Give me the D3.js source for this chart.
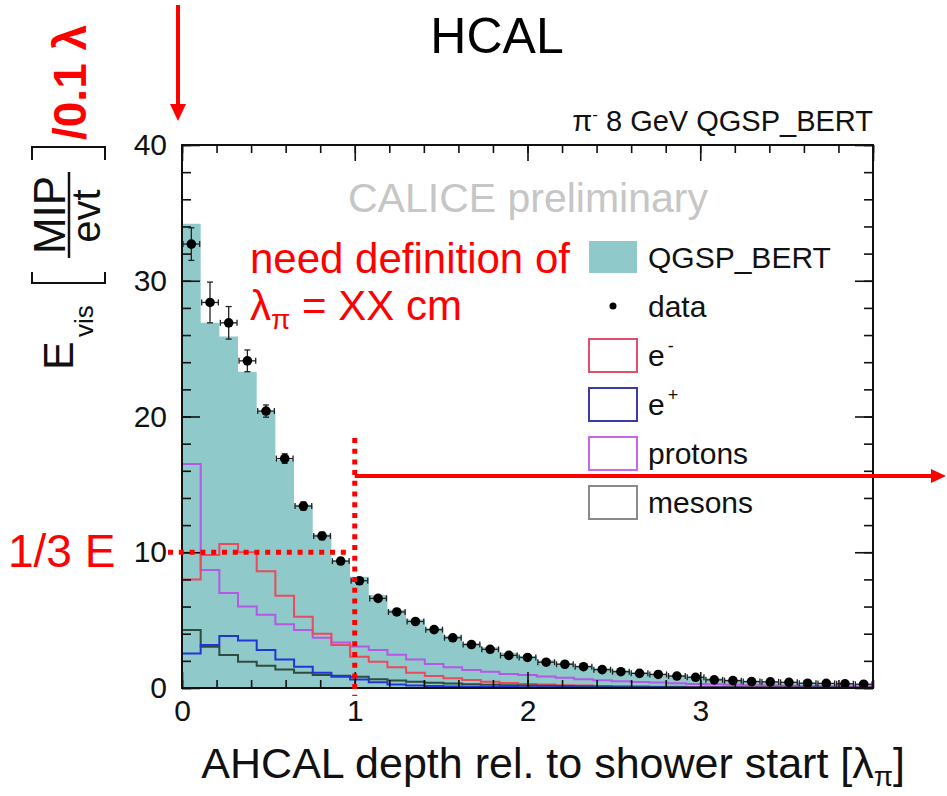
<!DOCTYPE html>
<html>
<head>
<meta charset="utf-8">
<script src="https://cdn.jsdelivr.net/npm/d3@7/dist/d3.min.js"></script>
<style>
  html, body { margin: 0; padding: 0; background: #fff; }
  svg { display: block; font-family: "Liberation Sans", Arial, Helvetica, sans-serif; }
</style>
</head>
<body>
<svg id="chart" width="947" height="796"></svg>
<script>
// Longitudinal shower profile, pi- 8 GeV, AHCAL, 37 depth bins from 0 to 4 lambda_pi
const nBins = 37;
const xMax = 4;

// Data points (MIP/evt per bin) and their statistical errors
const dataVals = [32.7, 28.4, 26.9, 24.1, 20.4, 16.9, 13.4, 11.2, 9.35, 7.9,
  6.6, 5.6, 4.9, 4.3, 3.7, 3.2, 2.85, 2.4, 2.25, 1.9,
  1.75, 1.57, 1.35, 1.2, 1.08, 1.0, 0.88, 0.79, 0.6, 0.54,
  0.47, 0.45, 0.42, 0.35, 0.34, 0.31, 0.28];
const dataErr = [1.2, 1.5, 1.2, 0.8, 0.45, 0.35, 0.3, 0.28, 0.25, 0.22,
  0.2, 0.18, 0.16, 0.15, 0.14, 0.13, 0.12, 0.11, 0.1, 0.1,
  0.1, 0.1, 0.1, 0.1, 0.1, 0.1, 0.1, 0.1, 0.1, 0.1,
  0.1, 0.1, 0.1, 0.1, 0.1, 0.1, 0.1];

// QGSP_BERT total
const qgspVals = [34.2, 26.9, 25.9, 23.3, 20.4, 16.8, 13.5, 11.3, 9.4, 8.2,
  6.85, 5.75, 5.05, 4.4, 3.85, 3.3, 3.0, 2.6, 2.35, 2.05,
  1.85, 1.65, 1.45, 1.3, 1.15, 1.05, 0.95, 0.85, 0.72, 0.62,
  0.55, 0.5, 0.45, 0.4, 0.36, 0.33, 0.3];

// QGSP_BERT contributions by particle type
const eMinus = [8.0, 9.8, 10.6, 10.0, 8.6, 6.8, 5.25, 4.0, 3.17, 2.3,
  1.94, 1.52, 1.13, 0.88, 0.71, 0.59, 0.46, 0.36, 0.3, 0.25,
  0.21, 0.18, 0.15, 0.13, 0.11, 0.1, 0.09, 0.08, 0.07, 0.06,
  0.06, 0.05, 0.05, 0.04, 0.04, 0.03, 0.03];
const ePlus = [2.55, 3.17, 3.83, 3.5, 2.8, 2.1, 1.57, 1.13, 0.83, 0.62,
  0.42, 0.26, 0.18, 0.14, 0.11, 0.09, 0.08, 0.07, 0.06, 0.05,
  0.05, 0.04, 0.04, 0.03, 0.03, 0.03, 0.02, 0.02, 0.02, 0.02,
  0.02, 0.01, 0.01, 0.01, 0.01, 0.01, 0.01];
const protons = [16.5, 8.7, 7.0, 6.0, 5.4, 4.7, 4.27, 3.7, 3.35, 3.05,
  2.8, 2.45, 2.1, 1.77, 1.52, 1.33, 1.2, 1.03, 0.95, 0.85,
  0.75, 0.65, 0.58, 0.5, 0.45, 0.4, 0.35, 0.3, 0.27, 0.24,
  0.2, 0.18, 0.16, 0.14, 0.12, 0.1, 0.09];
const mesons = [4.27, 3.04, 2.43, 1.94, 1.64, 1.37, 1.13, 0.96, 0.9, 0.83,
  0.64, 0.55, 0.46, 0.39, 0.33, 0.28, 0.24, 0.21, 0.18, 0.16,
  0.14, 0.12, 0.11, 0.1, 0.09, 0.08, 0.07, 0.06, 0.05, 0.05,
  0.04, 0.04, 0.03, 0.03, 0.03, 0.02, 0.02];

const xTicks = [0, 1, 2, 3];
const yTicks = [0, 10, 20, 30, 40];

const legendItems = [
  { label: "QGSP_BERT", kind: "fill", color: "#90c9c9" },
  { label: "data", kind: "dot", color: "#000" },
  { label: "e", sup: "-", kind: "box", color: "#e0506a" },
  { label: "e", sup: "+", kind: "box", color: "#3a3aa8" },
  { label: "protons", kind: "box", color: "#c868e8" },
  { label: "mesons", kind: "box", color: "#8a8a8a" }
];

const binW = xMax / nBins;
const edges = d3.range(nBins + 1).map(i => i * binW);

const svg = d3.select("#chart");
const L = 182, R = 873, T = 145, B = 688;
const x = d3.scaleLinear().domain([0, xMax]).range([L, R]);
const y = d3.scaleLinear().domain([0, 40]).range([B, T]);

const stepPts = vals => vals.map((v, i) => [edges[i], v]).concat([[xMax, vals[vals.length - 1]]]);

// filled QGSP_BERT histogram
svg.append("path")
  .attr("d", d3.area().curve(d3.curveStepAfter)
    .x(d => x(d[0])).y0(y(0)).y1(d => y(d[1]))(stepPts(qgspVals)))
  .attr("fill", "#90c9c9");

// component outlines
const outline = d3.line().curve(d3.curveStepAfter).x(d => x(d[0])).y(d => y(d[1]));
const comps = [
  { vals: protons, color: "#b458e6" },
  { vals: eMinus, color: "#ea4a5c" },
  { vals: mesons, color: "#2e4c40" },
  { vals: ePlus, color: "#2236d8" }
];
comps.forEach(c => {
  const pts = [[0, 0]].concat(stepPts(c.vals));
  svg.append("path").attr("d", outline(pts))
    .attr("fill", "none").attr("stroke", c.color).attr("stroke-width", 2);
});

// data points with error bars
const dg = svg.append("g");
dataVals.forEach((v, i) => {
  const cx = x(edges[i] + binW / 2), cy = y(v);
  const x0 = x(edges[i]) + 1, x1 = x(edges[i + 1]) - 1;
  dg.append("line").attr("x1", x0).attr("x2", x1).attr("y1", cy).attr("y2", cy)
    .attr("stroke", "#222").attr("stroke-width", 1.3);
  [x0, x1].forEach(xx => dg.append("line").attr("x1", xx).attr("x2", xx)
    .attr("y1", cy - 3).attr("y2", cy + 3).attr("stroke", "#222").attr("stroke-width", 1.3));
  const yt = y(v + dataErr[i]), yb = y(v - dataErr[i]);
  dg.append("line").attr("x1", cx).attr("x2", cx).attr("y1", yt).attr("y2", yb)
    .attr("stroke", "#222").attr("stroke-width", 1.3);
  [yt, yb].forEach(yy => dg.append("line").attr("x1", cx - 3).attr("x2", cx + 3)
    .attr("y1", yy).attr("y2", yy).attr("stroke", "#222").attr("stroke-width", 1.3));
  dg.append("circle").attr("cx", cx).attr("cy", cy).attr("r", 4.8).attr("fill", "#000");
});

// frame and ticks on all four sides
svg.append("rect").attr("x", L).attr("y", T).attr("width", R - L).attr("height", B - T)
  .attr("fill", "none").attr("stroke", "#111").attr("stroke-width", 2);

function styleAxis(g) {
  g.select(".domain").remove();
  g.selectAll(".tick line").attr("stroke", "#111").attr("stroke-width", 1.6);
  g.selectAll(".tick text").attr("font-size", 30).attr("fill", "#111")
    .attr("font-family", "Liberation Sans, Arial, sans-serif");
}
const yMinor = d3.range(0, 41, 2);
const xMinor = d3.range(0, 4.001, 0.2);
svg.append("g").attr("transform", `translate(${L},0)`)
  .call(d3.axisLeft(y).tickValues(yMinor).tickSize(-9).tickFormat("")).call(styleAxis);
svg.append("g").attr("transform", `translate(${L},0)`)
  .call(d3.axisLeft(y).tickValues(yTicks).tickSize(-18).tickPadding(15)).call(styleAxis);
svg.append("g").attr("transform", `translate(${R},0)`)
  .call(d3.axisRight(y).tickValues(yMinor).tickSize(-9).tickFormat("")).call(styleAxis);
svg.append("g").attr("transform", `translate(${R},0)`)
  .call(d3.axisRight(y).tickValues(yTicks).tickSize(-18).tickFormat("")).call(styleAxis);
svg.append("g").attr("transform", `translate(0,${B})`)
  .call(d3.axisBottom(x).tickValues(xMinor).tickSize(-8).tickFormat("")).call(styleAxis);
svg.append("g").attr("transform", `translate(0,${B})`)
  .call(d3.axisBottom(x).tickValues(xTicks).tickSize(-16).tickPadding(12).tickFormat(d3.format("d"))).call(styleAxis);
svg.append("g").attr("transform", `translate(0,${T})`)
  .call(d3.axisTop(x).tickValues(xMinor).tickSize(-8).tickFormat("")).call(styleAxis);
svg.append("g").attr("transform", `translate(0,${T})`)
  .call(d3.axisTop(x).tickValues(d3.range(0, 4.001, 1)).tickSize(-16).tickFormat("")).call(styleAxis);

// x-axis title
const xt = svg.append("text").attr("x", 905).attr("y", 778).attr("text-anchor", "end")
  .attr("font-size", 43).attr("fill", "#111");
xt.append("tspan").text("AHCAL depth rel. to shower start [λ");
xt.append("tspan").attr("font-size", 28).attr("dy", 8).text("π");
xt.append("tspan").attr("dy", -8).text("]");

// y-axis title, rotated
const yt = svg.append("g").attr("transform", "rotate(-90)").attr("fill", "#111");
yt.append("text").attr("x", -370).attr("y", 73).attr("font-size", 43).text("E");
yt.append("text").attr("x", -337).attr("y", 93).attr("font-size", 26).text("vis");
yt.append("text").attr("x", -215).attr("y", 65).attr("text-anchor", "middle").attr("font-size", 44).text("MIP");
yt.append("text").attr("x", -216).attr("y", 100).attr("text-anchor", "middle").attr("font-size", 40).text("evt");
yt.append("line").attr("x1", -258).attr("x2", -172).attr("y1", 69).attr("y2", 69)
  .attr("stroke", "#111").attr("stroke-width", 2.5);
yt.append("path").attr("d", "M-272,32 L-283,32 L-283,105 L-272,105")
  .attr("fill", "none").attr("stroke", "#111").attr("stroke-width", 2);
yt.append("path").attr("d", "M-160,32 L-147,32 L-147,105 L-160,105")
  .attr("fill", "none").attr("stroke", "#111").attr("stroke-width", 2);
yt.append("text").attr("x", -140).attr("y", 86).attr("font-size", 46).attr("font-weight", "bold")
  .attr("fill", "#ff0000").text("/0.1 λ");

// plot header texts
svg.append("text").attr("x", 873).attr("y", 131).attr("text-anchor", "end")
  .attr("font-size", 29).attr("fill", "#111")
  .call(t => {
    t.append("tspan").text("π");
    t.append("tspan").attr("font-size", 17).attr("dy", -11).text("-");
    t.append("tspan").attr("dy", 11).text(" 8 GeV QGSP_BERT");
  });
svg.append("text").attr("x", 528).attr("y", 212).attr("text-anchor", "middle")
  .attr("font-size", 41).attr("fill", "#c6c6c6").text("CALICE preliminary");

// legend
const lg = svg.append("g");
legendItems.forEach((d, i) => {
  const cy = 257 + i * 49;
  if (d.kind === "fill") {
    lg.append("rect").attr("x", 589).attr("y", cy - 16).attr("width", 48).attr("height", 32).attr("fill", d.color);
  } else if (d.kind === "dot") {
    lg.append("circle").attr("cx", 613).attr("cy", cy).attr("r", 3.5).attr("fill", d.color);
  } else {
    lg.append("rect").attr("x", 589).attr("y", cy - 16).attr("width", 48).attr("height", 33)
      .attr("fill", "#fff").attr("stroke", d.color).attr("stroke-width", 2);
  }
  const t = lg.append("text").attr("x", 648).attr("y", cy + 11).attr("font-size", 30).attr("fill", "#111");
  t.append("tspan").text(d.label);
  if (d.sup) t.append("tspan").attr("font-size", 18).attr("dy", -14).attr("dx", 3).text(d.sup);
});

// annotations
svg.append("text").attr("x", 497).attr("y", 53).attr("text-anchor", "middle")
  .attr("font-size", 50).attr("fill", "#000").text("HCAL");

const red = "#ff0000";
svg.append("line").attr("x1", 178).attr("x2", 178).attr("y1", 5).attr("y2", 106)
  .attr("stroke", red).attr("stroke-width", 4);
svg.append("path").attr("d", "M170,104 L186,104 L178,121 Z").attr("fill", red);

svg.append("text").attr("x", 250).attr("y", 273).attr("font-size", 42).attr("fill", red).text("need definition of");
svg.append("text").attr("x", 250).attr("y", 320).attr("font-size", 42).attr("fill", red)
  .call(t => {
    t.append("tspan").text("λ");
    t.append("tspan").attr("font-size", 28).attr("dy", 9).text("π");
    t.append("tspan").attr("dy", -9).text(" = XX cm");
  });
svg.append("text").attr("x", 8).attr("y", 567).attr("font-size", 46).attr("fill", red).text("1/3 E");

svg.append("line").attr("x1", 168).attr("x2", 350).attr("y1", y(10)).attr("y2", y(10))
  .attr("stroke", red).attr("stroke-width", 5).attr("stroke-dasharray", "5,5.8");
svg.append("line").attr("x1", x(1)).attr("x2", x(1)).attr("y1", 438).attr("y2", 696)
  .attr("stroke", red).attr("stroke-width", 5).attr("stroke-dasharray", "5,5.7");

svg.append("line").attr("x1", x(1)).attr("x2", 933).attr("y1", 476).attr("y2", 476)
  .attr("stroke", red).attr("stroke-width", 4);
svg.append("path").attr("d", "M931,469 L946,476 L931,483 Z").attr("fill", red);
</script>
</body>
</html>
